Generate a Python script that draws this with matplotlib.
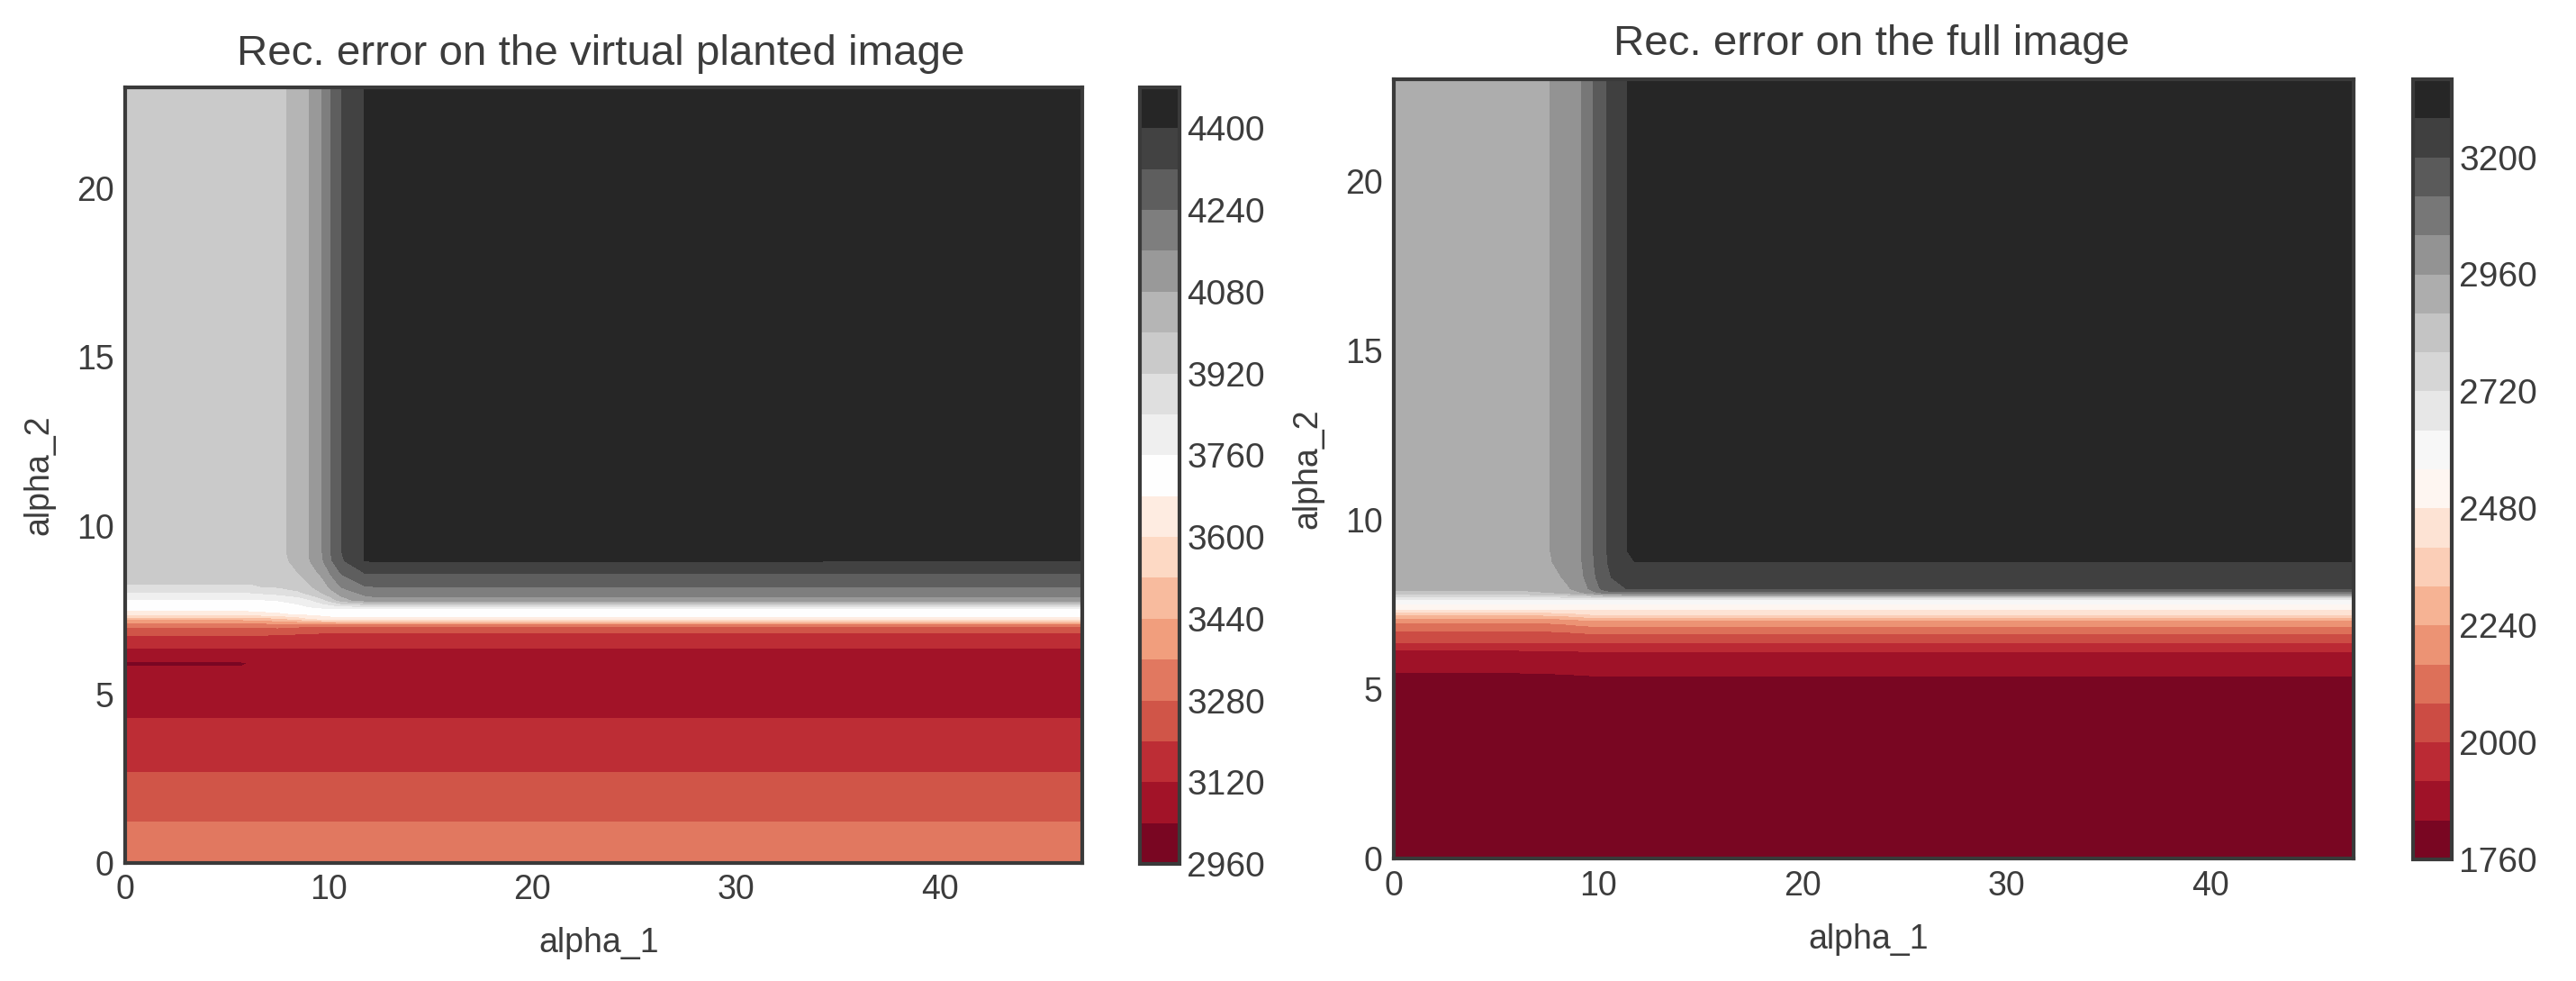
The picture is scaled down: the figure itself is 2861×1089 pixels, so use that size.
import numpy as np
import matplotlib
matplotlib.use('Agg')
import matplotlib.pyplot as plt

plt.rcParams['font.family'] = ['Liberation Sans', 'DejaVu Sans']
TEXT = '#3c3c3c'
EDGE = '#3a3a3a'

W, H = 2861, 1089

# values (alpha_1 across, alpha_2 down the table)
left_x = [0, 5.7, 6.2, 7.5, 8.5, 9.03, 9.68, 10.1, 10.65, 11.76, 12.2, 47]
left_y = [0, 1.22, 2.69, 4.29, 5.4, 5.8, 5.92, 6.0, 6.38, 6.75, 7.05, 7.25,
          7.4, 7.55, 7.8, 8.0, 8.2, 8.6, 8.96, 9.2, 23]
left_z = [
    [3350, 3350, 3350, 3350, 3350, 3350, 3350, 3350, 3350, 3350, 3350, 3350],
    [3280, 3280, 3280, 3280, 3280, 3280, 3280, 3280, 3280, 3280, 3280, 3280],
    [3200, 3200, 3200, 3200, 3200, 3200, 3200, 3200, 3200, 3200, 3200, 3200],
    [3120, 3120, 3120, 3120, 3120, 3120, 3120, 3120, 3120, 3120, 3120, 3120],
    [3070, 3070, 3070, 3070, 3070, 3070, 3070, 3070, 3070, 3070, 3070, 3070],
    [3045, 3045, 3045, 3045, 3045, 3045, 3045, 3045, 3045, 3045, 3045, 3045],
    [3030, 3030, 3045, 3045, 3045, 3045, 3045, 3045, 3045, 3045, 3045, 3045],
    [3050, 3050, 3050, 3050, 3050, 3050, 3050, 3050, 3050, 3050, 3050, 3050],
    [3120, 3120, 3120, 3120, 3120, 3120, 3120, 3120, 3120, 3120, 3120, 3120],
    [3200, 3200, 3200, 3195, 3185, 3180, 3175, 3175, 3175, 3175, 3175, 3175],
    [3300, 3300, 3305, 3310, 3300, 3295, 3290, 3290, 3290, 3290, 3290, 3290],
    [3470, 3470, 3480, 3510, 3560, 3600, 3630, 3650, 3660, 3660, 3660, 3660],
    [3650, 3650, 3655, 3670, 3690, 3700, 3710, 3715, 3720, 3720, 3720, 3720],
    [3700, 3700, 3705, 3715, 3730, 3745, 3755, 3760, 3760, 3760, 3760, 3760],
    [3755, 3755, 3755, 3765, 3790, 3830, 3900, 3960, 4050, 4120, 4130, 4130],
    [3830, 3830, 3835, 3860, 3900, 3940, 4000, 4050, 4110, 4180, 4190, 4190],
    [3915, 3915, 3915, 3930, 3960, 3990, 4040, 4100, 4170, 4235, 4240, 4240],
    [3945, 3945, 3945, 3955, 4000, 4040, 4100, 4170, 4250, 4320, 4325, 4325],
    [3950, 3950, 3950, 3965, 4030, 4075, 4150, 4230, 4310, 4400, 4405, 4401],
    [3950, 3950, 3950, 3970, 4040, 4080, 4160, 4240, 4320, 4400, 4440, 4440],
    [3950, 3950, 3950, 3970, 4040, 4080, 4160, 4240, 4320, 4400, 4440, 4440],
]
left_levels = list(range(2960, 4481, 80))
left_ticks = list(range(2960, 4401, 160))

# values
right_x = [0, 6, 7.66, 8.5, 9.2, 9.78, 10.44, 11.4, 11.8, 47]
right_y = [0, 5.39, 5.48, 6.1, 6.37, 6.63, 6.85, 7.03, 7.2, 7.34, 7.65,
           7.85, 7.96, 8.3, 8.76, 9.1, 23]
right_z = [
    [1780, 1780, 1780, 1780, 1780, 1780, 1780, 1780, 1780, 1780],
    [1830, 1830, 1834, 1836, 1838, 1840, 1840, 1840, 1840, 1840],
    [1840, 1840, 1842, 1844, 1846, 1848, 1848, 1848, 1848, 1848],
    [1905, 1905, 1908, 1912, 1916, 1920, 1920, 1920, 1920, 1920],
    [2000, 2000, 2000, 2000, 2000, 2000, 2000, 2000, 2000, 2000],
    [2055, 2055, 2058, 2064, 2072, 2080, 2080, 2080, 2080, 2080],
    [2120, 2120, 2125, 2135, 2150, 2160, 2160, 2160, 2160, 2160],
    [2190, 2190, 2195, 2210, 2230, 2240, 2240, 2240, 2240, 2240],
    [2330, 2330, 2340, 2360, 2385, 2400, 2400, 2400, 2400, 2400],
    [2480, 2480, 2480, 2480, 2480, 2480, 2480, 2480, 2480, 2480],
    [2640, 2640, 2640, 2640, 2640, 2640, 2640, 2640, 2640, 2640],
    [2860, 2860, 2880, 2920, 2960, 3020, 3080, 3100, 3100, 3100],
    [2890, 2890, 2910, 2950, 3000, 3070, 3170, 3200, 3200, 3200],
    [2900, 2900, 2930, 2975, 3025, 3105, 3190, 3235, 3237, 3235],
    [2900, 2900, 2955, 2998, 3038, 3118, 3198, 3278, 3280, 3280],
    [2900, 2900, 2960, 3000, 3040, 3120, 3200, 3280, 3320, 3320],
    [2900, 2900, 2960, 3000, 3040, 3120, 3200, 3280, 3320, 3320],
]
right_levels = list(range(1760, 3361, 80))
right_ticks = list(range(1760, 3201, 240))

x_ticks = [0, 10, 20, 30, 40]
y_ticks = [0, 5, 10, 15, 20]


def box(x0, y0, x1, y1):
    # pixel box (top-left origin) to figure fractions
    return [x0 / W, 1 - y1 / H, (x1 - x0) / W, (y1 - y0) / H]


def panel(fig, pos, cpos, xs, ys, zs, levels, ticks, title, title_y, ylab_x):
    ax = fig.add_axes(box(*pos))
    cax = fig.add_axes(box(*cpos))
    cf = ax.contourf(xs, ys, np.array(zs), levels=levels, cmap='RdGy')
    ax.set_xlim(0, 47)
    ax.set_ylim(0, 23)
    ax.set_xticks(x_ticks)
    ax.set_yticks(y_ticks)
    ax.tick_params(length=0, labelsize=27, labelcolor=TEXT, pad=9)
    for s in ax.spines.values():
        s.set_linewidth(3)
        s.set_color(EDGE)
    ax.set_xlabel('alpha_1', fontsize=27, color=TEXT, labelpad=14)
    ax.xaxis.set_label_coords(0.495, -0.083)
    ax.set_ylabel('alpha_2', fontsize=27, color=TEXT)
    ax.yaxis.set_label_coords(ylab_x, 0.5)
    fig.text((pos[0] + pos[2]) / 2 / W - 0.001, 1 - title_y / H, title, fontsize=34.2,
             color=TEXT, ha='center', va='center')
    cb = fig.colorbar(cf, cax=cax, ticks=ticks)
    cb.ax.tick_params(length=0, labelsize=28, labelcolor=TEXT, pad=6)
    cb.outline.set_linewidth(3)
    cb.outline.set_edgecolor(EDGE)
    return ax


fig = plt.figure(figsize=(W / 100, H / 100), dpi=100, facecolor='white')
panel(fig, (139, 97, 1202, 958), (1266, 97, 1310, 959), left_x, left_y, left_z,
      left_levels, left_ticks, 'Rec. error on the virtual planted image', 60, -0.073)
panel(fig, (1548, 88, 2614, 953), (2680, 88, 2723, 954), right_x, right_y, right_z,
      right_levels, right_ticks, 'Rec. error on the full image', 49, -0.073)
fig.savefig('out.png', dpi=100)
